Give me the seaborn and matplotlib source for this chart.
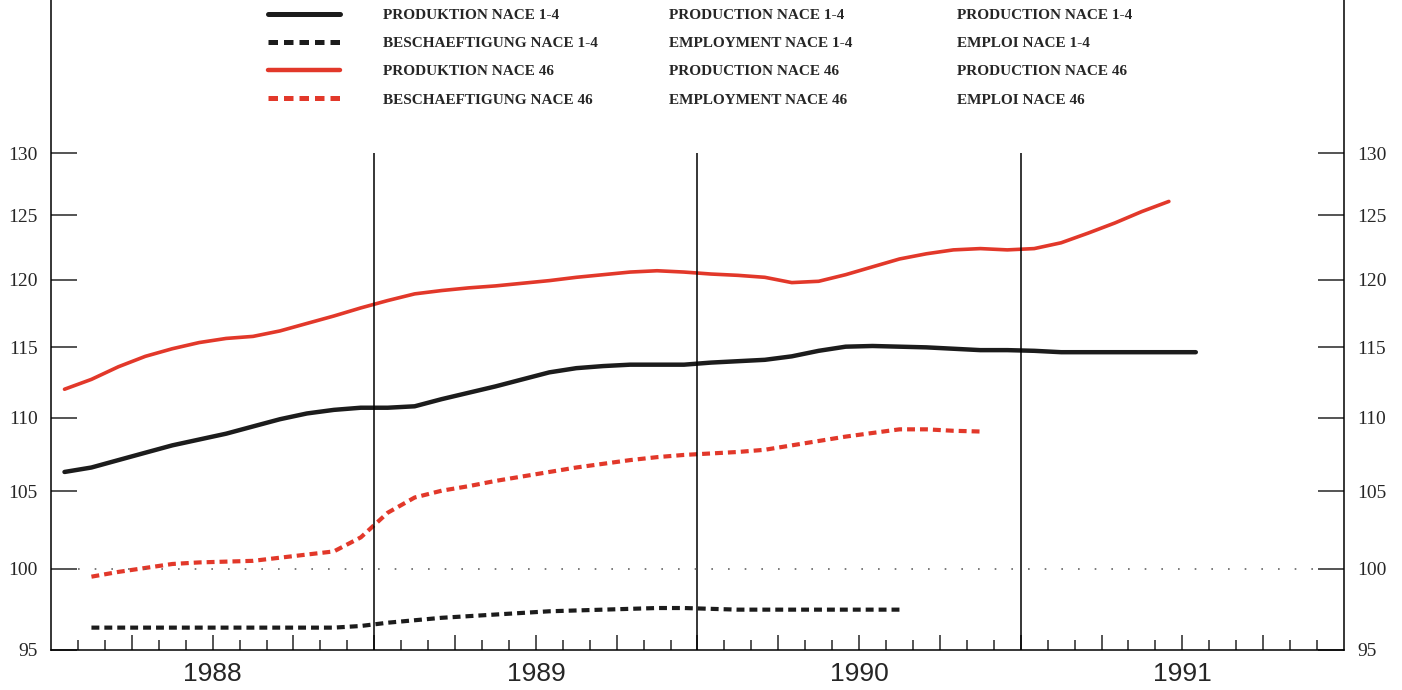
import numpy as np
import pandas as pd
import matplotlib
matplotlib.use("Agg")
import matplotlib.pyplot as plt
from matplotlib.lines import Line2D
from matplotlib.ticker import NullLocator, FixedLocator
import seaborn as sns

# monthly index values, Jan 1988 = month 0 (points drawn mid-month)
prod_14 = [106.3, 106.6, 107.1, 107.6, 108.1, 108.5, 108.9, 109.4, 109.9, 110.3, 110.55, 110.7,
           110.7, 110.8, 111.3, 111.75, 112.2, 112.7, 113.2, 113.5, 113.65, 113.75, 113.75, 113.75,
           113.9, 114.0, 114.1, 114.35, 114.75, 115.05, 115.1, 115.05, 115.0, 114.9, 114.8, 114.8,
           114.75, 114.65, 114.65, 114.65, 114.65, 114.65, 114.65]
empl_14 = [96.35, 96.35, 96.35, 96.35, 96.35, 96.35, 96.35, 96.35, 96.35, 96.35, 96.45,
           96.65, 96.8, 96.95, 97.05, 97.15, 97.25, 97.35, 97.4, 97.45, 97.5, 97.55, 97.55,
           97.5, 97.45, 97.45, 97.45, 97.45, 97.45, 97.45, 97.45]
prod_46 = [112.0, 112.7, 113.6, 114.35, 114.9, 115.35, 115.65, 115.8, 116.2, 116.75, 117.3, 117.9,
           118.45, 118.95, 119.2, 119.4, 119.55, 119.75, 119.95, 120.2, 120.4, 120.6, 120.7, 120.6,
           120.45, 120.35, 120.2, 119.8, 119.9, 120.4, 121.0, 121.6, 122.0, 122.3, 122.4, 122.3,
           122.4, 122.85, 123.6, 124.4, 125.3, 126.1]
empl_46 = [99.5, 99.8, 100.05, 100.3, 100.4, 100.45, 100.5, 100.7, 100.9, 101.1, 102.0,
           103.6, 104.6, 105.05, 105.35, 105.7, 106.0, 106.3, 106.6, 106.85, 107.1, 107.3, 107.45,
           107.55, 107.65, 107.8, 108.1, 108.4, 108.7, 108.95, 109.2, 109.2, 109.1, 109.05]
prod_start, empl_start = 0, 1

years = ['1988', '1989', '1990', '1991']
yticks = [95, 100, 105, 110, 115, 120, 125, 130]

labels_de = ['PRODUKTION NACE 1-4', 'BESCHAEFTIGUNG NACE 1-4', 'PRODUKTION NACE 46', 'BESCHAEFTIGUNG NACE 46']
labels_en = ['PRODUCTION NACE 1-4', 'EMPLOYMENT NACE 1-4', 'PRODUCTION NACE 46', 'EMPLOYMENT NACE 46']
labels_fr = ['PRODUCTION NACE 1-4', 'EMPLOI NACE 1-4', 'PRODUCTION NACE 46', 'EMPLOI NACE 46']

black = '#1c1c1c'
red = '#e2382a'
dash = (0, (1.9, 1.2))

sns.set_style('white')
plt.rcParams['font.family'] = ['Liberation Serif', 'DejaVu Sans']

fig = plt.figure(figsize=(14.02, 6.9), dpi=100)
ax = fig.add_axes([0.0364, 0.058, 0.9222, 0.942])


def series(vals, start):
    return pd.DataFrame({'month': np.arange(len(vals)) + start + 0.5, 'value': vals})


d = series(prod_14, prod_start)
sns.lineplot(data=d, x='month', y='value', ax=ax, color=black, linewidth=3.2)
d = series(empl_14, empl_start)
sns.lineplot(data=d, x='month', y='value', ax=ax, color=black, linewidth=3.0, linestyle=dash)
d = series(prod_46, prod_start)
sns.lineplot(data=d, x='month', y='value', ax=ax, color=red, linewidth=2.6)
d = series(empl_46, empl_start)
sns.lineplot(data=d, x='month', y='value', ax=ax, color=red, linewidth=3.0, linestyle=dash)

# year separators and 100 reference
ax.vlines([12, 24, 36], 95, 130, color='black', linewidth=1.1)
ax.hlines(100, 1, 47, color='#666666', linewidth=1.2, linestyles=[(0, (1, 9))])

ax.set_yscale('log')
ax.set_ylim(95, 143.2)
ax.set_xlim(0, 48)
ax.yaxis.set_major_locator(FixedLocator(yticks))
ax.yaxis.set_minor_locator(NullLocator())
ax.set_yticklabels([str(t) for t in yticks])
ax.tick_params(axis='y', which='major', direction='in', left=True, right=True,
               labelleft=True, labelright=True, length=19, width=1.1, pad=9.5,
               labelsize=14)

quarters = list(range(3, 48, 3))
qlabels = [''] * len(quarters)
for i, q in enumerate(quarters):
    if q % 12 == 6:
        qlabels[i] = years[q // 12]
ax.set_xticks(quarters)
ax.set_xticklabels(qlabels, fontfamily='Liberation Sans', fontsize=19)
ax.set_xticks([m for m in range(1, 48) if m % 3 != 0], minor=True)
ax.tick_params(axis='x', which='major', direction='in', bottom=True, length=11, width=1.1, pad=9)
ax.tick_params(axis='x', which='minor', direction='in', bottom=True, length=7, width=1.1)

ax.set_xlabel('')
ax.set_ylabel('')
for s in ['left', 'right', 'bottom']:
    ax.spines[s].set_color('black')
    ax.spines[s].set_linewidth(1.1)
ax.spines['top'].set_visible(False)

handles = [Line2D([], [], color=black, lw=3.6),
           Line2D([], [], color=black, lw=3.6, linestyle=dash),
           Line2D([], [], color=red, lw=3.2),
           Line2D([], [], color=red, lw=3.6, linestyle=dash)]
blank = [Line2D([], [], alpha=0) for _ in range(4)]
leg_kw = dict(loc='upper left', frameon=False, borderpad=0, borderaxespad=0,
              labelspacing=0.95, bbox_transform=fig.transFigure,
              prop={'family': 'Liberation Serif', 'weight': 'bold', 'size': 11})
fig.legend(handles, labels_de, bbox_to_anchor=(0.1912, 0.988), handlelength=4.7,
           handletextpad=2.8, **leg_kw)
fig.legend(blank, labels_en, bbox_to_anchor=(0.4772, 0.988), handlelength=0,
           handletextpad=0, **leg_kw)
fig.legend(blank, labels_fr, bbox_to_anchor=(0.6826, 0.988), handlelength=0,
           handletextpad=0, **leg_kw)

fig.savefig('out.png', dpi=100)
